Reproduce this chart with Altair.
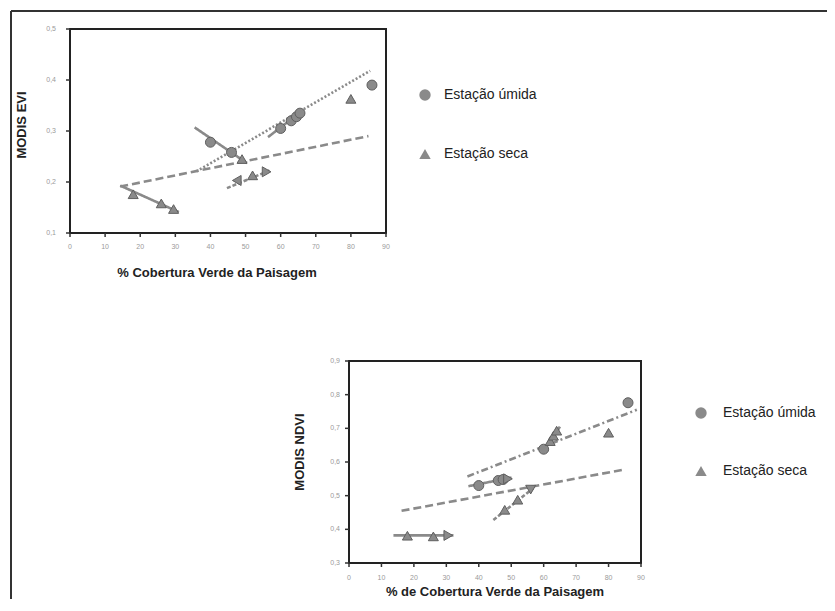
import altair as alt
import pandas as pd

W, H = 819, 591
FONT = "Liberation Sans"

# ---------------- data: top panel (MODIS EVI) ----------------
evi_pt_x = [40, 46, 60, 63, 64.5, 65.5, 86, 49, 18, 26, 29.5, 47.5, 52, 56, 80]
evi_pt_y = [0.278, 0.258, 0.305, 0.320, 0.328, 0.335, 0.390, 0.245, 0.176, 0.158, 0.147, 0.203, 0.213, 0.220, 0.363]
evi_pt_tipo = ["Estação úmida"] * 7 + ["Estação seca", "Estação seca", "Estação seca", "Estação seca",
                                       "seca_esq", "Estação seca", "seca_dir", "Estação seca"]

evi_ln_id = ["g_umida", "g_umida", "g_seca", "g_seca", "s1", "s1", "s2", "s2", "s3", "s3", "s4", "s4"]
evi_ln_x = [36, 85.5, 14.3, 85, 35.5, 50.4, 14.3, 31, 44.7, 57, 56.4, 66]
evi_ln_y = [0.221, 0.418, 0.191, 0.290, 0.307, 0.237, 0.193, 0.141, 0.188, 0.223, 0.288, 0.339]
evi_ln_estilo = ["pontilhada"] * 2 + ["tracejada"] * 2 + ["continua"] * 4 + ["tracejada_fina"] * 2 + ["continua"] * 2

evi_y_ticks = [0.1, 0.2, 0.3, 0.4, 0.5]
evi_y_labels = ["0,1", "0,2", "0,3", "0,4", "0,5"]

# ---------------- data: bottom panel (MODIS NDVI) ----------------
ndvi_pt_x = [40, 46, 47.5, 60, 86, 49, 62, 63, 64, 18, 26, 30.6, 48, 52, 56, 80]
ndvi_pt_y = [0.530, 0.545, 0.548, 0.638, 0.776, 0.550, 0.662, 0.678, 0.693, 0.381, 0.379, 0.382, 0.458, 0.488, 0.518, 0.687]
ndvi_pt_tipo = ["Estação úmida"] * 5 + ["seca_dir", "Estação seca", "Estação seca", "Estação seca",
                                        "Estação seca", "Estação seca", "seca_dir", "Estação seca",
                                        "Estação seca", "seca_baixo", "Estação seca"]

ndvi_ln_id = ["g_umida", "g_umida", "g_seca", "g_seca", "s1", "s1", "s2", "s2", "s3", "s3", "s4", "s4"]
ndvi_ln_x = [36.5, 88.7, 16.2, 84.5, 13.7, 32.2, 36.8, 50.1, 44.5, 56.8, 62, 65]
ndvi_ln_y = [0.557, 0.755, 0.455, 0.577, 0.382, 0.382, 0.528, 0.554, 0.428, 0.522, 0.656, 0.705]
ndvi_ln_estilo = ["traco_ponto"] * 2 + ["tracejada"] * 2 + ["continua"] * 4 + ["tracejada_fina"] * 2 + ["continua"] * 2

ndvi_y_ticks = [0.3, 0.4, 0.5, 0.6, 0.7, 0.8, 0.9]
ndvi_y_labels = ["0,3", "0,4", "0,5", "0,6", "0,7", "0,8", "0,9"]

x_ticks = [0, 10, 20, 30, 40, 50, 60, 70, 80, 90]
x_labels = ["0", "10", "20", "30", "40", "50", "60", "70", "80", "90"]
legend_labels = ["Estação úmida", "Estação seca"]

shape_domain = ["Estação úmida", "Estação seca", "seca_dir", "seca_esq", "seca_baixo"]
shape_range = ["circle", "triangle-up", "triangle-right", "triangle-left", "triangle-down"]
dash_domain = ["continua", "tracejada", "pontilhada", "traco_ponto", "tracejada_fina"]
dash_range = [[1, 0], [8, 4], [2, 2], [7, 3, 2, 3], [4, 2]]


def panel(pt_x, pt_y, pt_tipo, ln_id, ln_x, ln_y, ln_est, ydom, yticks, ylabels, xrange, yrange,
          ytitle, xtitle, ylab_dx, xlab_dy, ytitle_off, xtitle_off, leg_xy, leg_off, leg_rowpad):
    x0, x1 = x_ticks[0], x_ticks[-1]
    pts = pd.DataFrame({"x": pt_x, "y": pt_y, "tipo": pt_tipo})
    lns = pd.DataFrame({"x": ln_x, "y": ln_y, "id": ln_id, "estilo": ln_est})
    frame = pd.DataFrame({"x0": [x0], "x1": [x1], "y0": [ydom[0]], "y1": [ydom[1]]})
    ty = pd.DataFrame({"v": yticks, "lab": ylabels, "x0": [x0] * len(yticks)})
    tx = pd.DataFrame({"v": x_ticks, "lab": x_labels, "y0": [ydom[0]] * len(x_ticks)})
    tt = pd.DataFrame({"t": [xtitle], "u": [ytitle], "x0": [x0], "xm": [(x0 + x1) / 2],
                       "y0": [ydom[0]], "ym": [(ydom[0] + ydom[1]) / 2]})

    xs = alt.Scale(domain=[x0, x1], range=xrange, nice=False, zero=False)
    ys = alt.Scale(domain=ydom, range=yrange, nice=False, zero=False)

    box = alt.Chart(frame).mark_rect(fill="transparent", stroke="#222", strokeWidth=2).encode(
        x=alt.X("x0:Q", scale=xs, axis=None),
        x2="x1:Q",
        y=alt.Y("y0:Q", scale=ys, axis=None),
        y2="y1:Q",
    )
    # y ticks and labels
    ytick = alt.Chart(ty).mark_rule(color="#333", strokeWidth=1.5, xOffset=-4).encode(
        x=alt.X("x0:Q", axis=None), x2="x0:Q", y=alt.Y("v:Q", axis=None))
    ylab = alt.Chart(ty).mark_text(align="right", baseline="middle", xOffset=ylab_dx, font=FONT,
                                   fontSize=7, color="#9a9a9a").encode(
        x=alt.X("x0:Q", axis=None), y=alt.Y("v:Q", axis=None), text="lab:N")
    # x ticks and labels
    xtick = alt.Chart(tx).mark_rule(color="#333", strokeWidth=1.5, y2Offset=4).encode(
        y=alt.Y("y0:Q", axis=None), y2="y0:Q", x=alt.X("v:Q", axis=None))
    xlab = alt.Chart(tx).mark_text(align="center", baseline="middle", yOffset=xlab_dy, font=FONT,
                                   fontSize=7, color="#9a9a9a").encode(
        y=alt.Y("y0:Q", axis=None), x=alt.X("v:Q", axis=None), text="lab:N")
    # axis titles
    xtit = alt.Chart(tt).mark_text(align="center", baseline="middle", xOffset=xtitle_off[0],
                                   yOffset=xtitle_off[1], font=FONT, fontSize=13, fontWeight="bold",
                                   color="#222").encode(
        x=alt.X("xm:Q", axis=None), y=alt.Y("y0:Q", axis=None), text="t:N")
    ytit = alt.Chart(tt).mark_text(align="center", baseline="middle", angle=270, xOffset=ytitle_off[0],
                                   yOffset=ytitle_off[1], font=FONT, fontSize=13, fontWeight="bold",
                                   color="#222").encode(
        x=alt.X("x0:Q", axis=None), y=alt.Y("ym:Q", axis=None), text="u:N")

    lines = alt.Chart(lns).mark_line(color="#8a8a8a", strokeWidth=2.6).encode(
        x=alt.X("x:Q", axis=None),
        y=alt.Y("y:Q", axis=None),
        detail="id:N",
        strokeDash=alt.StrokeDash("estilo:N", scale=alt.Scale(domain=dash_domain, range=dash_range), legend=None),
    )
    points = alt.Chart(pts).mark_point(filled=True, size=100, opacity=1, stroke="#5f5f5f",
                                       strokeWidth=1, color="#8a8a8a").encode(
        x=alt.X("x:Q", axis=None),
        y=alt.Y("y:Q", axis=None),
        shape=alt.Shape("tipo:N", scale=alt.Scale(domain=shape_domain, range=shape_range),
                        legend=alt.Legend(title="", orient="none", legendX=leg_xy[0], legendY=leg_xy[1],
                                          values=legend_labels, padding=0, symbolSize=130,
                                          symbolFillColor="#8a8a8a", symbolStrokeColor="#4a4a4a",
                                          symbolStrokeWidth=1.2, labelFont=FONT, labelFontSize=14,
                                          labelColor="#222", labelOffset=leg_off, rowPadding=leg_rowpad)),
    )
    return alt.layer(box, ytick, ylab, xtick, xlab, xtit, ytit, lines, points)


top = panel(evi_pt_x, evi_pt_y, evi_pt_tipo, evi_ln_id, evi_ln_x, evi_ln_y, evi_ln_estilo,
            [0.1, 0.5], evi_y_ticks, evi_y_labels, [62, 378], [225, 21],
            "MODIS EVI", "% Cobertura Verde da Paisagem",
            -14, 14, (-48, -6), (-11, 40),
            (410, 80), 12, 42)

bottom = panel(ndvi_pt_x, ndvi_pt_y, ndvi_pt_tipo, ndvi_ln_id, ndvi_ln_x, ndvi_ln_y, ndvi_ln_estilo,
               [0.3, 0.9], ndvi_y_ticks, ndvi_y_labels, [341, 633], [555, 353],
               "MODIS NDVI", "% de Cobertura Verde da Paisagem",
               -9, 15, (-49, -10), (0, 29),
               (686, 398), 15, 41)

frame_df = pd.DataFrame({"k": [0]})
frame_top = alt.Chart(frame_df).mark_rule(color="#333", strokeWidth=2).encode(
    x=alt.value(3), x2=alt.value(W), y=alt.value(3))
frame_left = alt.Chart(frame_df).mark_rule(color="#333", strokeWidth=2).encode(
    x=alt.value(3), y=alt.value(3), y2=alt.value(H))

chart = alt.layer(frame_top, frame_left, top, bottom).resolve_scale(
    x="independent", y="independent", shape="independent"
).resolve_legend(shape="independent").properties(
    width=W, height=H, autosize=alt.AutoSizeParams(type="none"), padding=0
).configure_view(stroke="transparent")

chart.save("out.html", embed_options={"renderer": "svg", "actions": False})
